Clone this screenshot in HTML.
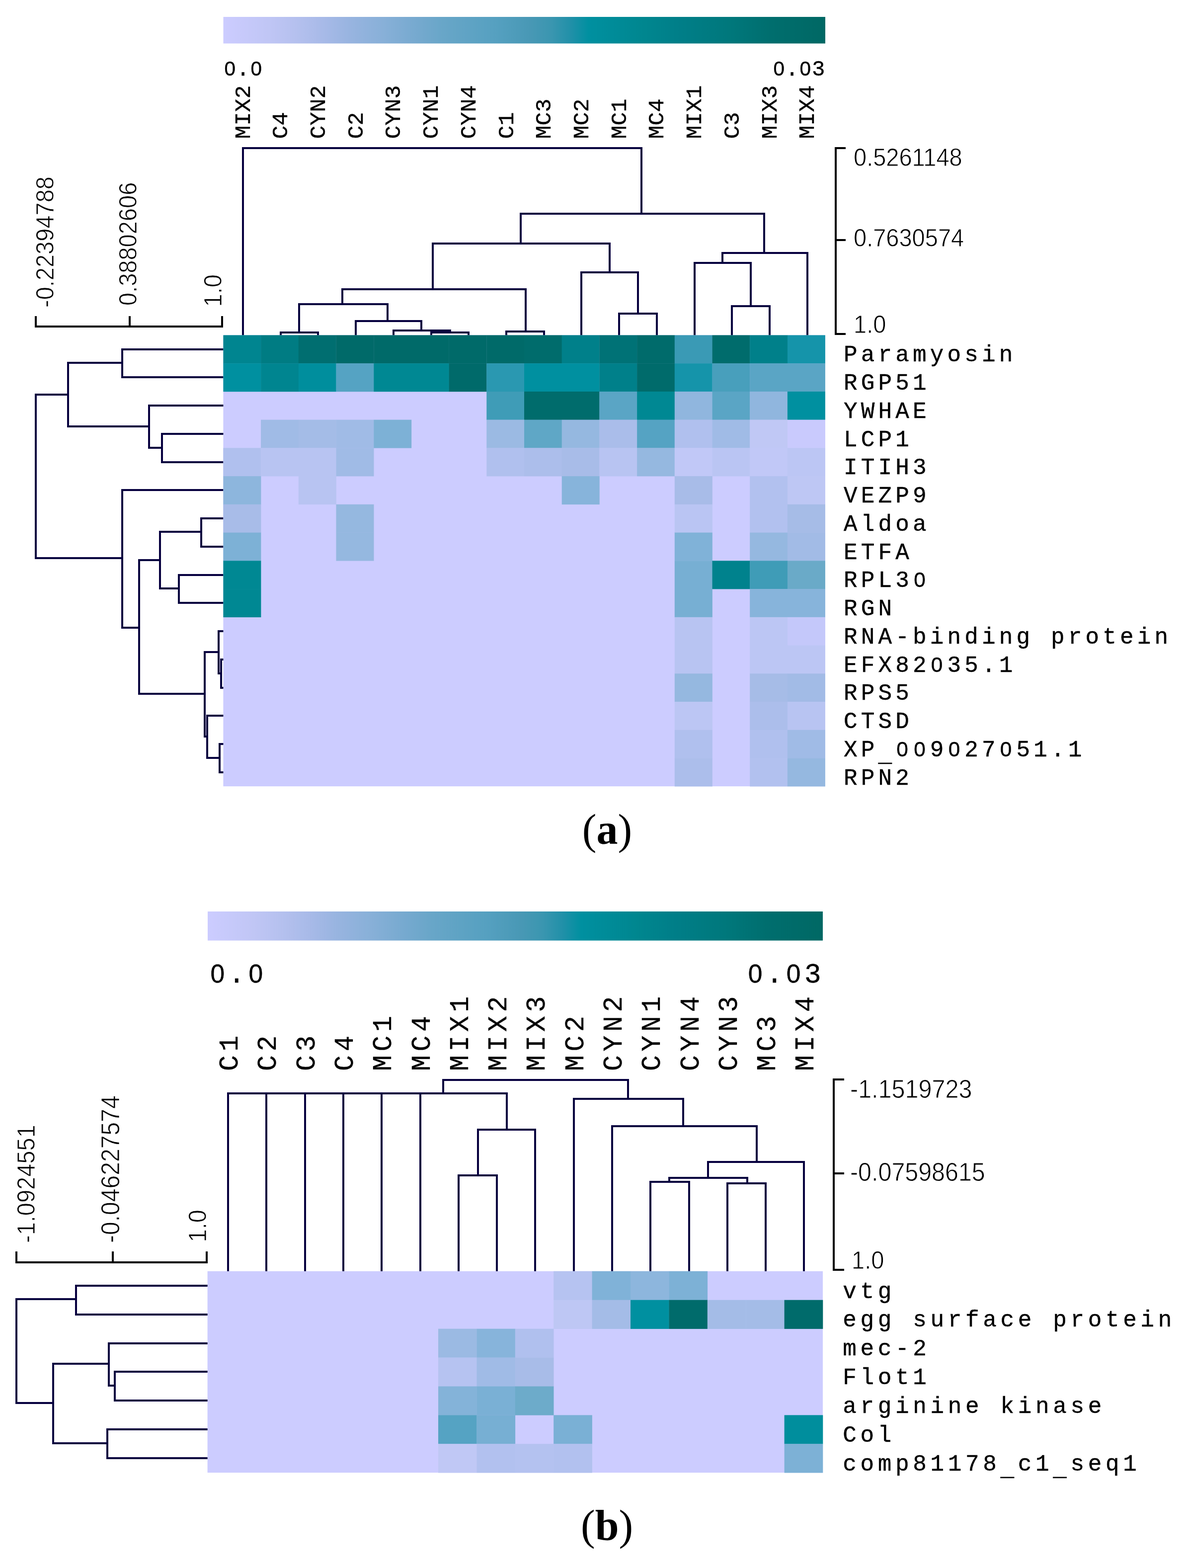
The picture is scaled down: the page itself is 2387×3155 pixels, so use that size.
<!DOCTYPE html>
<html><head><meta charset="utf-8"><title>Heatmap</title>
<style>html,body{margin:0;padding:0;background:#fff;}svg{display:block;}text{fill:#000;}.m{stroke:#000;stroke-width:0.4px;}.s{stroke:#fff;stroke-width:0.8px;}</style>
</head><body>
<svg width="2387" height="3155" viewBox="0 0 2387 3155">
<rect x="0" y="0" width="2387" height="3155" fill="#ffffff"/>
<linearGradient id="ga" x1="0" y1="0" x2="1" y2="0">
<stop offset="0.0" stop-color="#ccccff"/>
<stop offset="0.075" stop-color="#c0c6f5"/>
<stop offset="0.124" stop-color="#b4c0ee"/>
<stop offset="0.165" stop-color="#a8bae8"/>
<stop offset="0.21" stop-color="#98b4e0"/>
<stop offset="0.265" stop-color="#88b0d8"/>
<stop offset="0.315" stop-color="#78aad0"/>
<stop offset="0.365" stop-color="#68a6c8"/>
<stop offset="0.455" stop-color="#55a0c0"/>
<stop offset="0.51" stop-color="#4898b5"/>
<stop offset="0.545" stop-color="#3a96b0"/>
<stop offset="0.578" stop-color="#2090a8"/>
<stop offset="0.607" stop-color="#0090a0"/>
<stop offset="0.7" stop-color="#00868f"/>
<stop offset="0.76" stop-color="#007e88"/>
<stop offset="0.84" stop-color="#00787c"/>
<stop offset="0.91" stop-color="#006e6e"/>
<stop offset="1.0" stop-color="#006864"/>
</linearGradient>
<rect x="449.5" y="34" width="1211.5" height="53.5" fill="url(#ga)"/>
<text class="m" style="font-family:&quot;Liberation Mono&quot;,&quot;DejaVu Sans Mono&quot;,monospace;font-size:44px;" text-anchor="middle"><tspan x="462.8" y="151.7" style="font-family:&quot;Liberation Sans&quot;,Arial,sans-serif;font-size:40.5px">0</tspan><tspan x="489.2" y="151.7">.</tspan><tspan x="515.8" y="151.7" style="font-family:&quot;Liberation Sans&quot;,Arial,sans-serif;font-size:40.5px">0</tspan></text>
<text class="m" style="font-family:&quot;Liberation Mono&quot;,&quot;DejaVu Sans Mono&quot;,monospace;font-size:44px;" text-anchor="middle"><tspan x="1567.8" y="151.7" style="font-family:&quot;Liberation Sans&quot;,Arial,sans-serif;font-size:40.5px">0</tspan><tspan x="1594.2" y="151.7">.</tspan><tspan x="1620.8" y="151.7" style="font-family:&quot;Liberation Sans&quot;,Arial,sans-serif;font-size:40.5px">0</tspan><tspan x="1647.2" y="151.7">3</tspan></text>
<text class="m" x="502.5" y="279.5" style="font-family:&quot;Liberation Mono&quot;,&quot;DejaVu Sans Mono&quot;,monospace;font-size:45px;" text-anchor="start" transform="rotate(-90 502.5 279.5)">MIX2</text>
<text class="m" x="578.2" y="279.5" style="font-family:&quot;Liberation Mono&quot;,&quot;DejaVu Sans Mono&quot;,monospace;font-size:45px;" text-anchor="start" transform="rotate(-90 578.2 279.5)">C4</text>
<text class="m" x="653.9" y="279.5" style="font-family:&quot;Liberation Mono&quot;,&quot;DejaVu Sans Mono&quot;,monospace;font-size:45px;" text-anchor="start" transform="rotate(-90 653.9 279.5)">CYN2</text>
<text class="m" x="729.7" y="279.5" style="font-family:&quot;Liberation Mono&quot;,&quot;DejaVu Sans Mono&quot;,monospace;font-size:45px;" text-anchor="start" transform="rotate(-90 729.7 279.5)">C2</text>
<text class="m" x="805.4" y="279.5" style="font-family:&quot;Liberation Mono&quot;,&quot;DejaVu Sans Mono&quot;,monospace;font-size:45px;" text-anchor="start" transform="rotate(-90 805.4 279.5)">CYN3</text>
<text class="m" x="881.1" y="279.5" style="font-family:&quot;Liberation Mono&quot;,&quot;DejaVu Sans Mono&quot;,monospace;font-size:45px;" text-anchor="start" transform="rotate(-90 881.1 279.5)">CYN1</text>
<text class="m" x="956.8" y="279.5" style="font-family:&quot;Liberation Mono&quot;,&quot;DejaVu Sans Mono&quot;,monospace;font-size:45px;" text-anchor="start" transform="rotate(-90 956.8 279.5)">CYN4</text>
<text class="m" x="1032.5" y="279.5" style="font-family:&quot;Liberation Mono&quot;,&quot;DejaVu Sans Mono&quot;,monospace;font-size:45px;" text-anchor="start" transform="rotate(-90 1032.5 279.5)">C1</text>
<text class="m" x="1108.3" y="279.5" style="font-family:&quot;Liberation Mono&quot;,&quot;DejaVu Sans Mono&quot;,monospace;font-size:45px;" text-anchor="start" transform="rotate(-90 1108.3 279.5)">MC3</text>
<text class="m" x="1184.0" y="279.5" style="font-family:&quot;Liberation Mono&quot;,&quot;DejaVu Sans Mono&quot;,monospace;font-size:45px;" text-anchor="start" transform="rotate(-90 1184.0 279.5)">MC2</text>
<text class="m" x="1259.7" y="279.5" style="font-family:&quot;Liberation Mono&quot;,&quot;DejaVu Sans Mono&quot;,monospace;font-size:45px;" text-anchor="start" transform="rotate(-90 1259.7 279.5)">MC1</text>
<text class="m" x="1335.4" y="279.5" style="font-family:&quot;Liberation Mono&quot;,&quot;DejaVu Sans Mono&quot;,monospace;font-size:45px;" text-anchor="start" transform="rotate(-90 1335.4 279.5)">MC4</text>
<text class="m" x="1411.1" y="279.5" style="font-family:&quot;Liberation Mono&quot;,&quot;DejaVu Sans Mono&quot;,monospace;font-size:45px;" text-anchor="start" transform="rotate(-90 1411.1 279.5)">MIX1</text>
<text class="m" x="1486.9" y="279.5" style="font-family:&quot;Liberation Mono&quot;,&quot;DejaVu Sans Mono&quot;,monospace;font-size:45px;" text-anchor="start" transform="rotate(-90 1486.9 279.5)">C3</text>
<text class="m" x="1562.6" y="279.5" style="font-family:&quot;Liberation Mono&quot;,&quot;DejaVu Sans Mono&quot;,monospace;font-size:45px;" text-anchor="start" transform="rotate(-90 1562.6 279.5)">MIX3</text>
<text class="m" x="1638.3" y="279.5" style="font-family:&quot;Liberation Mono&quot;,&quot;DejaVu Sans Mono&quot;,monospace;font-size:45px;" text-anchor="start" transform="rotate(-90 1638.3 279.5)">MIX4</text>
<line x1="565.0" y1="669.0" x2="640.0" y2="669.0" stroke="#07003f" stroke-width="4" stroke-linecap="square"/>
<line x1="565.0" y1="669.0" x2="565.0" y2="674.0" stroke="#07003f" stroke-width="4" stroke-linecap="square"/>
<line x1="640.0" y1="669.0" x2="640.0" y2="674.0" stroke="#07003f" stroke-width="4" stroke-linecap="square"/>
<line x1="868.0" y1="669.0" x2="943.0" y2="669.0" stroke="#07003f" stroke-width="4" stroke-linecap="square"/>
<line x1="868.0" y1="669.0" x2="868.0" y2="674.0" stroke="#07003f" stroke-width="4" stroke-linecap="square"/>
<line x1="943.0" y1="669.0" x2="943.0" y2="674.0" stroke="#07003f" stroke-width="4" stroke-linecap="square"/>
<line x1="792.0" y1="665.0" x2="906.0" y2="665.0" stroke="#07003f" stroke-width="4" stroke-linecap="square"/>
<line x1="792.0" y1="665.0" x2="792.0" y2="674.0" stroke="#07003f" stroke-width="4" stroke-linecap="square"/>
<line x1="906.0" y1="665.0" x2="906.0" y2="669.0" stroke="#07003f" stroke-width="4" stroke-linecap="square"/>
<line x1="716.0" y1="646.0" x2="848.0" y2="646.0" stroke="#07003f" stroke-width="4" stroke-linecap="square"/>
<line x1="716.0" y1="646.0" x2="716.0" y2="674.0" stroke="#07003f" stroke-width="4" stroke-linecap="square"/>
<line x1="848.0" y1="646.0" x2="848.0" y2="665.0" stroke="#07003f" stroke-width="4" stroke-linecap="square"/>
<line x1="602.0" y1="612.0" x2="780.0" y2="612.0" stroke="#07003f" stroke-width="4" stroke-linecap="square"/>
<line x1="602.0" y1="612.0" x2="602.0" y2="669.0" stroke="#07003f" stroke-width="4" stroke-linecap="square"/>
<line x1="780.0" y1="612.0" x2="780.0" y2="646.0" stroke="#07003f" stroke-width="4" stroke-linecap="square"/>
<line x1="1019.0" y1="667.0" x2="1095.0" y2="667.0" stroke="#07003f" stroke-width="4" stroke-linecap="square"/>
<line x1="1019.0" y1="667.0" x2="1019.0" y2="674.0" stroke="#07003f" stroke-width="4" stroke-linecap="square"/>
<line x1="1095.0" y1="667.0" x2="1095.0" y2="674.0" stroke="#07003f" stroke-width="4" stroke-linecap="square"/>
<line x1="689.0" y1="582.0" x2="1058.0" y2="582.0" stroke="#07003f" stroke-width="4" stroke-linecap="square"/>
<line x1="689.0" y1="582.0" x2="689.0" y2="612.0" stroke="#07003f" stroke-width="4" stroke-linecap="square"/>
<line x1="1058.0" y1="582.0" x2="1058.0" y2="667.0" stroke="#07003f" stroke-width="4" stroke-linecap="square"/>
<line x1="1246.0" y1="631.0" x2="1322.0" y2="631.0" stroke="#07003f" stroke-width="4" stroke-linecap="square"/>
<line x1="1246.0" y1="631.0" x2="1246.0" y2="674.0" stroke="#07003f" stroke-width="4" stroke-linecap="square"/>
<line x1="1322.0" y1="631.0" x2="1322.0" y2="674.0" stroke="#07003f" stroke-width="4" stroke-linecap="square"/>
<line x1="1170.0" y1="548.0" x2="1284.0" y2="548.0" stroke="#07003f" stroke-width="4" stroke-linecap="square"/>
<line x1="1170.0" y1="548.0" x2="1170.0" y2="674.0" stroke="#07003f" stroke-width="4" stroke-linecap="square"/>
<line x1="1284.0" y1="548.0" x2="1284.0" y2="631.0" stroke="#07003f" stroke-width="4" stroke-linecap="square"/>
<line x1="871.0" y1="490.0" x2="1227.0" y2="490.0" stroke="#07003f" stroke-width="4" stroke-linecap="square"/>
<line x1="871.0" y1="490.0" x2="871.0" y2="582.0" stroke="#07003f" stroke-width="4" stroke-linecap="square"/>
<line x1="1227.0" y1="490.0" x2="1227.0" y2="548.0" stroke="#07003f" stroke-width="4" stroke-linecap="square"/>
<line x1="1473.0" y1="616.0" x2="1549.0" y2="616.0" stroke="#07003f" stroke-width="4" stroke-linecap="square"/>
<line x1="1473.0" y1="616.0" x2="1473.0" y2="674.0" stroke="#07003f" stroke-width="4" stroke-linecap="square"/>
<line x1="1549.0" y1="616.0" x2="1549.0" y2="674.0" stroke="#07003f" stroke-width="4" stroke-linecap="square"/>
<line x1="1398.0" y1="529.0" x2="1511.0" y2="529.0" stroke="#07003f" stroke-width="4" stroke-linecap="square"/>
<line x1="1398.0" y1="529.0" x2="1398.0" y2="674.0" stroke="#07003f" stroke-width="4" stroke-linecap="square"/>
<line x1="1511.0" y1="529.0" x2="1511.0" y2="616.0" stroke="#07003f" stroke-width="4" stroke-linecap="square"/>
<line x1="1454.0" y1="509.0" x2="1625.0" y2="509.0" stroke="#07003f" stroke-width="4" stroke-linecap="square"/>
<line x1="1454.0" y1="509.0" x2="1454.0" y2="529.0" stroke="#07003f" stroke-width="4" stroke-linecap="square"/>
<line x1="1625.0" y1="509.0" x2="1625.0" y2="674.0" stroke="#07003f" stroke-width="4" stroke-linecap="square"/>
<line x1="1048.0" y1="430.0" x2="1538.0" y2="430.0" stroke="#07003f" stroke-width="4" stroke-linecap="square"/>
<line x1="1048.0" y1="430.0" x2="1048.0" y2="490.0" stroke="#07003f" stroke-width="4" stroke-linecap="square"/>
<line x1="1538.0" y1="430.0" x2="1538.0" y2="509.0" stroke="#07003f" stroke-width="4" stroke-linecap="square"/>
<line x1="489.0" y1="298.0" x2="1291.0" y2="298.0" stroke="#07003f" stroke-width="4" stroke-linecap="square"/>
<line x1="489.0" y1="298.0" x2="489.0" y2="674.0" stroke="#07003f" stroke-width="4" stroke-linecap="square"/>
<line x1="1291.0" y1="298.0" x2="1291.0" y2="430.0" stroke="#07003f" stroke-width="4" stroke-linecap="square"/>
<line x1="246.0" y1="703.0" x2="246.0" y2="759.0" stroke="#07003f" stroke-width="4" stroke-linecap="square"/>
<line x1="246.0" y1="703.0" x2="449.0" y2="703.0" stroke="#07003f" stroke-width="4" stroke-linecap="square"/>
<line x1="246.0" y1="759.0" x2="449.0" y2="759.0" stroke="#07003f" stroke-width="4" stroke-linecap="square"/>
<line x1="326.0" y1="873.0" x2="326.0" y2="930.0" stroke="#07003f" stroke-width="4" stroke-linecap="square"/>
<line x1="326.0" y1="873.0" x2="449.0" y2="873.0" stroke="#07003f" stroke-width="4" stroke-linecap="square"/>
<line x1="326.0" y1="930.0" x2="449.0" y2="930.0" stroke="#07003f" stroke-width="4" stroke-linecap="square"/>
<line x1="300.0" y1="816.0" x2="300.0" y2="901.0" stroke="#07003f" stroke-width="4" stroke-linecap="square"/>
<line x1="300.0" y1="816.0" x2="449.0" y2="816.0" stroke="#07003f" stroke-width="4" stroke-linecap="square"/>
<line x1="300.0" y1="901.0" x2="326.0" y2="901.0" stroke="#07003f" stroke-width="4" stroke-linecap="square"/>
<line x1="137.0" y1="730.0" x2="137.0" y2="858.0" stroke="#07003f" stroke-width="4" stroke-linecap="square"/>
<line x1="137.0" y1="730.0" x2="246.0" y2="730.0" stroke="#07003f" stroke-width="4" stroke-linecap="square"/>
<line x1="137.0" y1="858.0" x2="300.0" y2="858.0" stroke="#07003f" stroke-width="4" stroke-linecap="square"/>
<line x1="405.0" y1="1043.0" x2="405.0" y2="1100.0" stroke="#07003f" stroke-width="4" stroke-linecap="square"/>
<line x1="405.0" y1="1043.0" x2="449.0" y2="1043.0" stroke="#07003f" stroke-width="4" stroke-linecap="square"/>
<line x1="405.0" y1="1100.0" x2="449.0" y2="1100.0" stroke="#07003f" stroke-width="4" stroke-linecap="square"/>
<line x1="360.0" y1="1157.0" x2="360.0" y2="1213.0" stroke="#07003f" stroke-width="4" stroke-linecap="square"/>
<line x1="360.0" y1="1157.0" x2="449.0" y2="1157.0" stroke="#07003f" stroke-width="4" stroke-linecap="square"/>
<line x1="360.0" y1="1213.0" x2="449.0" y2="1213.0" stroke="#07003f" stroke-width="4" stroke-linecap="square"/>
<line x1="322.0" y1="1070.0" x2="322.0" y2="1184.0" stroke="#07003f" stroke-width="4" stroke-linecap="square"/>
<line x1="322.0" y1="1070.0" x2="405.0" y2="1070.0" stroke="#07003f" stroke-width="4" stroke-linecap="square"/>
<line x1="322.0" y1="1184.0" x2="360.0" y2="1184.0" stroke="#07003f" stroke-width="4" stroke-linecap="square"/>
<line x1="445.0" y1="1327.0" x2="445.0" y2="1384.0" stroke="#07003f" stroke-width="4" stroke-linecap="square"/>
<line x1="445.0" y1="1327.0" x2="449.0" y2="1327.0" stroke="#07003f" stroke-width="4" stroke-linecap="square"/>
<line x1="445.0" y1="1384.0" x2="449.0" y2="1384.0" stroke="#07003f" stroke-width="4" stroke-linecap="square"/>
<line x1="440.0" y1="1270.0" x2="440.0" y2="1355.0" stroke="#07003f" stroke-width="4" stroke-linecap="square"/>
<line x1="440.0" y1="1270.0" x2="449.0" y2="1270.0" stroke="#07003f" stroke-width="4" stroke-linecap="square"/>
<line x1="440.0" y1="1355.0" x2="445.0" y2="1355.0" stroke="#07003f" stroke-width="4" stroke-linecap="square"/>
<line x1="442.0" y1="1497.0" x2="442.0" y2="1554.0" stroke="#07003f" stroke-width="4" stroke-linecap="square"/>
<line x1="442.0" y1="1497.0" x2="449.0" y2="1497.0" stroke="#07003f" stroke-width="4" stroke-linecap="square"/>
<line x1="442.0" y1="1554.0" x2="449.0" y2="1554.0" stroke="#07003f" stroke-width="4" stroke-linecap="square"/>
<line x1="417.0" y1="1440.0" x2="417.0" y2="1525.0" stroke="#07003f" stroke-width="4" stroke-linecap="square"/>
<line x1="417.0" y1="1440.0" x2="449.0" y2="1440.0" stroke="#07003f" stroke-width="4" stroke-linecap="square"/>
<line x1="417.0" y1="1525.0" x2="442.0" y2="1525.0" stroke="#07003f" stroke-width="4" stroke-linecap="square"/>
<line x1="412.0" y1="1312.0" x2="412.0" y2="1482.0" stroke="#07003f" stroke-width="4" stroke-linecap="square"/>
<line x1="412.0" y1="1312.0" x2="440.0" y2="1312.0" stroke="#07003f" stroke-width="4" stroke-linecap="square"/>
<line x1="412.0" y1="1482.0" x2="417.0" y2="1482.0" stroke="#07003f" stroke-width="4" stroke-linecap="square"/>
<line x1="280.0" y1="1127.0" x2="280.0" y2="1396.0" stroke="#07003f" stroke-width="4" stroke-linecap="square"/>
<line x1="280.0" y1="1127.0" x2="322.0" y2="1127.0" stroke="#07003f" stroke-width="4" stroke-linecap="square"/>
<line x1="280.0" y1="1396.0" x2="412.0" y2="1396.0" stroke="#07003f" stroke-width="4" stroke-linecap="square"/>
<line x1="246.0" y1="986.0" x2="246.0" y2="1263.0" stroke="#07003f" stroke-width="4" stroke-linecap="square"/>
<line x1="246.0" y1="986.0" x2="449.0" y2="986.0" stroke="#07003f" stroke-width="4" stroke-linecap="square"/>
<line x1="246.0" y1="1263.0" x2="280.0" y2="1263.0" stroke="#07003f" stroke-width="4" stroke-linecap="square"/>
<line x1="72.0" y1="794.0" x2="72.0" y2="1123.0" stroke="#07003f" stroke-width="4" stroke-linecap="square"/>
<line x1="72.0" y1="794.0" x2="137.0" y2="794.0" stroke="#07003f" stroke-width="4" stroke-linecap="square"/>
<line x1="72.0" y1="1123.0" x2="246.0" y2="1123.0" stroke="#07003f" stroke-width="4" stroke-linecap="square"/>
<line x1="1682.0" y1="298.0" x2="1682.0" y2="672.0" stroke="#000000" stroke-width="4" stroke-linecap="square"/>
<line x1="1682.0" y1="298.0" x2="1700.0" y2="298.0" stroke="#000000" stroke-width="4" stroke-linecap="square"/>
<line x1="1682.0" y1="483.0" x2="1700.0" y2="483.0" stroke="#000000" stroke-width="4" stroke-linecap="square"/>
<line x1="1682.0" y1="672.0" x2="1700.0" y2="672.0" stroke="#000000" stroke-width="4" stroke-linecap="square"/>
<text class="s" x="0" y="0" style="font-family:&quot;Liberation Sans&quot;,Arial,sans-serif;font-size:47px;" text-anchor="start" transform="translate(1718.0 334.0) scale(1 1.065)">0.5261148</text>
<text class="s" x="0" y="0" style="font-family:&quot;Liberation Sans&quot;,Arial,sans-serif;font-size:47px;" text-anchor="start" transform="translate(1718.0 495.8) scale(1 1.065)">0.7630574</text>
<text class="s" x="0" y="0" style="font-family:&quot;Liberation Sans&quot;,Arial,sans-serif;font-size:47px;" text-anchor="start" transform="translate(1718.0 670.2) scale(1 1.065)">1.0</text>
<line x1="72.0" y1="657.0" x2="447.0" y2="657.0" stroke="#000000" stroke-width="4" stroke-linecap="square"/>
<line x1="72.0" y1="638.0" x2="72.0" y2="657.0" stroke="#000000" stroke-width="4" stroke-linecap="square"/>
<line x1="261.0" y1="638.0" x2="261.0" y2="657.0" stroke="#000000" stroke-width="4" stroke-linecap="square"/>
<line x1="447.0" y1="638.0" x2="447.0" y2="657.0" stroke="#000000" stroke-width="4" stroke-linecap="square"/>
<text class="s" x="0" y="0" style="font-family:&quot;Liberation Sans&quot;,Arial,sans-serif;font-size:47px;" text-anchor="start" transform="translate(108.3 619.0) rotate(-90) scale(1 1.065)">-0.22394788</text>
<text class="s" x="0" y="0" style="font-family:&quot;Liberation Sans&quot;,Arial,sans-serif;font-size:47px;" text-anchor="start" transform="translate(274.7 615.0) rotate(-90) scale(1 1.065)">0.38802606</text>
<text class="s" x="0" y="0" style="font-family:&quot;Liberation Sans&quot;,Arial,sans-serif;font-size:47px;" text-anchor="start" transform="translate(445.6 617.5) rotate(-90) scale(1 1.065)">1.0</text>
<text class="m" style="font-family:&quot;Liberation Mono&quot;,&quot;DejaVu Sans Mono&quot;,monospace;font-size:46px;" text-anchor="middle"><tspan x="1711.9" y="727.2">P</tspan><tspan x="1746.6" y="727.2">a</tspan><tspan x="1781.4" y="727.2">r</tspan><tspan x="1816.1" y="727.2">a</tspan><tspan x="1850.9" y="727.2">m</tspan><tspan x="1885.6" y="727.2">y</tspan><tspan x="1920.4" y="727.2">o</tspan><tspan x="1955.1" y="727.2">s</tspan><tspan x="1989.9" y="727.2">i</tspan><tspan x="2024.6" y="727.2">n</tspan></text>
<text class="m" style="font-family:&quot;Liberation Mono&quot;,&quot;DejaVu Sans Mono&quot;,monospace;font-size:46px;" text-anchor="middle"><tspan x="1711.9" y="784.0">R</tspan><tspan x="1746.6" y="784.0">G</tspan><tspan x="1781.4" y="784.0">P</tspan><tspan x="1816.1" y="784.0">5</tspan><tspan x="1850.9" y="784.0">1</tspan></text>
<text class="m" style="font-family:&quot;Liberation Mono&quot;,&quot;DejaVu Sans Mono&quot;,monospace;font-size:46px;" text-anchor="middle"><tspan x="1711.9" y="840.7">Y</tspan><tspan x="1746.6" y="840.7">W</tspan><tspan x="1781.4" y="840.7">H</tspan><tspan x="1816.1" y="840.7">A</tspan><tspan x="1850.9" y="840.7">E</tspan></text>
<text class="m" style="font-family:&quot;Liberation Mono&quot;,&quot;DejaVu Sans Mono&quot;,monospace;font-size:46px;" text-anchor="middle"><tspan x="1711.9" y="897.5">L</tspan><tspan x="1746.6" y="897.5">C</tspan><tspan x="1781.4" y="897.5">P</tspan><tspan x="1816.1" y="897.5">1</tspan></text>
<text class="m" style="font-family:&quot;Liberation Mono&quot;,&quot;DejaVu Sans Mono&quot;,monospace;font-size:46px;" text-anchor="middle"><tspan x="1711.9" y="954.2">I</tspan><tspan x="1746.6" y="954.2">T</tspan><tspan x="1781.4" y="954.2">I</tspan><tspan x="1816.1" y="954.2">H</tspan><tspan x="1850.9" y="954.2">3</tspan></text>
<text class="m" style="font-family:&quot;Liberation Mono&quot;,&quot;DejaVu Sans Mono&quot;,monospace;font-size:46px;" text-anchor="middle"><tspan x="1711.9" y="1011.0">V</tspan><tspan x="1746.6" y="1011.0">E</tspan><tspan x="1781.4" y="1011.0">Z</tspan><tspan x="1816.1" y="1011.0">P</tspan><tspan x="1850.9" y="1011.0">9</tspan></text>
<text class="m" style="font-family:&quot;Liberation Mono&quot;,&quot;DejaVu Sans Mono&quot;,monospace;font-size:46px;" text-anchor="middle"><tspan x="1711.9" y="1067.8">A</tspan><tspan x="1746.6" y="1067.8">l</tspan><tspan x="1781.4" y="1067.8">d</tspan><tspan x="1816.1" y="1067.8">o</tspan><tspan x="1850.9" y="1067.8">a</tspan></text>
<text class="m" style="font-family:&quot;Liberation Mono&quot;,&quot;DejaVu Sans Mono&quot;,monospace;font-size:46px;" text-anchor="middle"><tspan x="1711.9" y="1124.5">E</tspan><tspan x="1746.6" y="1124.5">T</tspan><tspan x="1781.4" y="1124.5">F</tspan><tspan x="1816.1" y="1124.5">A</tspan></text>
<text class="m" style="font-family:&quot;Liberation Mono&quot;,&quot;DejaVu Sans Mono&quot;,monospace;font-size:46px;" text-anchor="middle"><tspan x="1711.9" y="1181.3">R</tspan><tspan x="1746.6" y="1181.3">P</tspan><tspan x="1781.4" y="1181.3">L</tspan><tspan x="1816.1" y="1181.3">3</tspan><tspan x="1850.9" y="1181.3" style="font-family:&quot;Liberation Sans&quot;,Arial,sans-serif;font-size:42.3px">0</tspan></text>
<text class="m" style="font-family:&quot;Liberation Mono&quot;,&quot;DejaVu Sans Mono&quot;,monospace;font-size:46px;" text-anchor="middle"><tspan x="1711.9" y="1238.0">R</tspan><tspan x="1746.6" y="1238.0">G</tspan><tspan x="1781.4" y="1238.0">N</tspan></text>
<text class="m" style="font-family:&quot;Liberation Mono&quot;,&quot;DejaVu Sans Mono&quot;,monospace;font-size:46px;" text-anchor="middle"><tspan x="1711.9" y="1294.8">R</tspan><tspan x="1746.6" y="1294.8">N</tspan><tspan x="1781.4" y="1294.8">A</tspan><tspan x="1816.1" y="1294.8">-</tspan><tspan x="1850.9" y="1294.8">b</tspan><tspan x="1885.6" y="1294.8">i</tspan><tspan x="1920.4" y="1294.8">n</tspan><tspan x="1955.1" y="1294.8">d</tspan><tspan x="1989.9" y="1294.8">i</tspan><tspan x="2024.6" y="1294.8">n</tspan><tspan x="2059.4" y="1294.8">g</tspan><tspan x="2128.9" y="1294.8">p</tspan><tspan x="2163.6" y="1294.8">r</tspan><tspan x="2198.4" y="1294.8">o</tspan><tspan x="2233.1" y="1294.8">t</tspan><tspan x="2267.9" y="1294.8">e</tspan><tspan x="2302.6" y="1294.8">i</tspan><tspan x="2337.4" y="1294.8">n</tspan></text>
<text class="m" style="font-family:&quot;Liberation Mono&quot;,&quot;DejaVu Sans Mono&quot;,monospace;font-size:46px;" text-anchor="middle"><tspan x="1711.9" y="1351.6">E</tspan><tspan x="1746.6" y="1351.6">F</tspan><tspan x="1781.4" y="1351.6">X</tspan><tspan x="1816.1" y="1351.6">8</tspan><tspan x="1850.9" y="1351.6">2</tspan><tspan x="1885.6" y="1351.6" style="font-family:&quot;Liberation Sans&quot;,Arial,sans-serif;font-size:42.3px">0</tspan><tspan x="1920.4" y="1351.6">3</tspan><tspan x="1955.1" y="1351.6">5</tspan><tspan x="1989.9" y="1351.6">.</tspan><tspan x="2024.6" y="1351.6">1</tspan></text>
<text class="m" style="font-family:&quot;Liberation Mono&quot;,&quot;DejaVu Sans Mono&quot;,monospace;font-size:46px;" text-anchor="middle"><tspan x="1711.9" y="1408.3">R</tspan><tspan x="1746.6" y="1408.3">P</tspan><tspan x="1781.4" y="1408.3">S</tspan><tspan x="1816.1" y="1408.3">5</tspan></text>
<text class="m" style="font-family:&quot;Liberation Mono&quot;,&quot;DejaVu Sans Mono&quot;,monospace;font-size:46px;" text-anchor="middle"><tspan x="1711.9" y="1465.1">C</tspan><tspan x="1746.6" y="1465.1">T</tspan><tspan x="1781.4" y="1465.1">S</tspan><tspan x="1816.1" y="1465.1">D</tspan></text>
<text class="m" style="font-family:&quot;Liberation Mono&quot;,&quot;DejaVu Sans Mono&quot;,monospace;font-size:46px;" text-anchor="middle"><tspan x="1711.9" y="1521.8">X</tspan><tspan x="1746.6" y="1521.8">P</tspan><tspan x="1781.4" y="1531.8">_</tspan><tspan x="1816.1" y="1521.8" style="font-family:&quot;Liberation Sans&quot;,Arial,sans-serif;font-size:42.3px">0</tspan><tspan x="1850.9" y="1521.8" style="font-family:&quot;Liberation Sans&quot;,Arial,sans-serif;font-size:42.3px">0</tspan><tspan x="1885.6" y="1521.8">9</tspan><tspan x="1920.4" y="1521.8" style="font-family:&quot;Liberation Sans&quot;,Arial,sans-serif;font-size:42.3px">0</tspan><tspan x="1955.1" y="1521.8">2</tspan><tspan x="1989.9" y="1521.8">7</tspan><tspan x="2024.6" y="1521.8" style="font-family:&quot;Liberation Sans&quot;,Arial,sans-serif;font-size:42.3px">0</tspan><tspan x="2059.4" y="1521.8">5</tspan><tspan x="2094.1" y="1521.8">1</tspan><tspan x="2128.9" y="1521.8">.</tspan><tspan x="2163.6" y="1521.8">1</tspan></text>
<text class="m" style="font-family:&quot;Liberation Mono&quot;,&quot;DejaVu Sans Mono&quot;,monospace;font-size:46px;" text-anchor="middle"><tspan x="1711.9" y="1578.6">R</tspan><tspan x="1746.6" y="1578.6">P</tspan><tspan x="1781.4" y="1578.6">N</tspan><tspan x="1816.1" y="1578.6">2</tspan></text>
<text x="1222" y="1698" style="font-family:&quot;Liberation Serif&quot;,&quot;Times New Roman&quot;,serif;font-size:86px;" text-anchor="middle">(<tspan style="font-weight:bold">a</tspan>)</text>
<linearGradient id="gb" x1="0" y1="0" x2="1" y2="0">
<stop offset="0.0" stop-color="#ccccff"/>
<stop offset="0.075" stop-color="#c0c6f5"/>
<stop offset="0.124" stop-color="#b4c0ee"/>
<stop offset="0.165" stop-color="#a8bae8"/>
<stop offset="0.21" stop-color="#98b4e0"/>
<stop offset="0.265" stop-color="#88b0d8"/>
<stop offset="0.315" stop-color="#78aad0"/>
<stop offset="0.365" stop-color="#68a6c8"/>
<stop offset="0.455" stop-color="#55a0c0"/>
<stop offset="0.51" stop-color="#4898b5"/>
<stop offset="0.545" stop-color="#3a96b0"/>
<stop offset="0.578" stop-color="#2090a8"/>
<stop offset="0.607" stop-color="#0090a0"/>
<stop offset="0.7" stop-color="#00868f"/>
<stop offset="0.76" stop-color="#007e88"/>
<stop offset="0.84" stop-color="#00787c"/>
<stop offset="0.91" stop-color="#006e6e"/>
<stop offset="1.0" stop-color="#006864"/>
</linearGradient>
<rect x="418" y="1834" width="1238" height="58.5" fill="url(#gb)"/>
<text class="m" style="font-family:&quot;Liberation Mono&quot;,&quot;DejaVu Sans Mono&quot;,monospace;font-size:56px;" text-anchor="middle"><tspan x="437.8" y="1977.0" style="font-family:&quot;Liberation Sans&quot;,Arial,sans-serif;font-size:51.5px">0</tspan><tspan x="476.2" y="1977.0">.</tspan><tspan x="514.8" y="1977.0" style="font-family:&quot;Liberation Sans&quot;,Arial,sans-serif;font-size:51.5px">0</tspan></text>
<text class="m" style="font-family:&quot;Liberation Mono&quot;,&quot;DejaVu Sans Mono&quot;,monospace;font-size:56px;" text-anchor="middle"><tspan x="1520.2" y="1977.0" style="font-family:&quot;Liberation Sans&quot;,Arial,sans-serif;font-size:51.5px">0</tspan><tspan x="1558.8" y="1977.0">.</tspan><tspan x="1597.2" y="1977.0" style="font-family:&quot;Liberation Sans&quot;,Arial,sans-serif;font-size:51.5px">0</tspan><tspan x="1635.8" y="1977.0">3</tspan></text>
<text class="m" x="478.0" y="2155.0" style="font-family:&quot;Liberation Mono&quot;,&quot;DejaVu Sans Mono&quot;,monospace;font-size:53px;letter-spacing:7.7px;" text-anchor="start" transform="rotate(-90 478.0 2155.0)">C1</text>
<text class="m" x="555.3" y="2155.0" style="font-family:&quot;Liberation Mono&quot;,&quot;DejaVu Sans Mono&quot;,monospace;font-size:53px;letter-spacing:7.7px;" text-anchor="start" transform="rotate(-90 555.3 2155.0)">C2</text>
<text class="m" x="632.6" y="2155.0" style="font-family:&quot;Liberation Mono&quot;,&quot;DejaVu Sans Mono&quot;,monospace;font-size:53px;letter-spacing:7.7px;" text-anchor="start" transform="rotate(-90 632.6 2155.0)">C3</text>
<text class="m" x="709.9" y="2155.0" style="font-family:&quot;Liberation Mono&quot;,&quot;DejaVu Sans Mono&quot;,monospace;font-size:53px;letter-spacing:7.7px;" text-anchor="start" transform="rotate(-90 709.9 2155.0)">C4</text>
<text class="m" x="787.2" y="2155.0" style="font-family:&quot;Liberation Mono&quot;,&quot;DejaVu Sans Mono&quot;,monospace;font-size:53px;letter-spacing:7.7px;" text-anchor="start" transform="rotate(-90 787.2 2155.0)">MC1</text>
<text class="m" x="864.5" y="2155.0" style="font-family:&quot;Liberation Mono&quot;,&quot;DejaVu Sans Mono&quot;,monospace;font-size:53px;letter-spacing:7.7px;" text-anchor="start" transform="rotate(-90 864.5 2155.0)">MC4</text>
<text class="m" x="941.7" y="2155.0" style="font-family:&quot;Liberation Mono&quot;,&quot;DejaVu Sans Mono&quot;,monospace;font-size:53px;letter-spacing:7.7px;" text-anchor="start" transform="rotate(-90 941.7 2155.0)">MIX1</text>
<text class="m" x="1019.0" y="2155.0" style="font-family:&quot;Liberation Mono&quot;,&quot;DejaVu Sans Mono&quot;,monospace;font-size:53px;letter-spacing:7.7px;" text-anchor="start" transform="rotate(-90 1019.0 2155.0)">MIX2</text>
<text class="m" x="1096.3" y="2155.0" style="font-family:&quot;Liberation Mono&quot;,&quot;DejaVu Sans Mono&quot;,monospace;font-size:53px;letter-spacing:7.7px;" text-anchor="start" transform="rotate(-90 1096.3 2155.0)">MIX3</text>
<text class="m" x="1173.6" y="2155.0" style="font-family:&quot;Liberation Mono&quot;,&quot;DejaVu Sans Mono&quot;,monospace;font-size:53px;letter-spacing:7.7px;" text-anchor="start" transform="rotate(-90 1173.6 2155.0)">MC2</text>
<text class="m" x="1250.9" y="2155.0" style="font-family:&quot;Liberation Mono&quot;,&quot;DejaVu Sans Mono&quot;,monospace;font-size:53px;letter-spacing:7.7px;" text-anchor="start" transform="rotate(-90 1250.9 2155.0)">CYN2</text>
<text class="m" x="1328.2" y="2155.0" style="font-family:&quot;Liberation Mono&quot;,&quot;DejaVu Sans Mono&quot;,monospace;font-size:53px;letter-spacing:7.7px;" text-anchor="start" transform="rotate(-90 1328.2 2155.0)">CYN1</text>
<text class="m" x="1405.5" y="2155.0" style="font-family:&quot;Liberation Mono&quot;,&quot;DejaVu Sans Mono&quot;,monospace;font-size:53px;letter-spacing:7.7px;" text-anchor="start" transform="rotate(-90 1405.5 2155.0)">CYN4</text>
<text class="m" x="1482.8" y="2155.0" style="font-family:&quot;Liberation Mono&quot;,&quot;DejaVu Sans Mono&quot;,monospace;font-size:53px;letter-spacing:7.7px;" text-anchor="start" transform="rotate(-90 1482.8 2155.0)">CYN3</text>
<text class="m" x="1560.1" y="2155.0" style="font-family:&quot;Liberation Mono&quot;,&quot;DejaVu Sans Mono&quot;,monospace;font-size:53px;letter-spacing:7.7px;" text-anchor="start" transform="rotate(-90 1560.1 2155.0)">MC3</text>
<text class="m" x="1637.4" y="2155.0" style="font-family:&quot;Liberation Mono&quot;,&quot;DejaVu Sans Mono&quot;,monospace;font-size:53px;letter-spacing:7.7px;" text-anchor="start" transform="rotate(-90 1637.4 2155.0)">MIX4</text>
<line x1="923.0" y1="2365.0" x2="1000.0" y2="2365.0" stroke="#07003f" stroke-width="4" stroke-linecap="square"/>
<line x1="923.0" y1="2365.0" x2="923.0" y2="2558.0" stroke="#07003f" stroke-width="4" stroke-linecap="square"/>
<line x1="1000.0" y1="2365.0" x2="1000.0" y2="2558.0" stroke="#07003f" stroke-width="4" stroke-linecap="square"/>
<line x1="962.0" y1="2273.0" x2="1077.0" y2="2273.0" stroke="#07003f" stroke-width="4" stroke-linecap="square"/>
<line x1="962.0" y1="2273.0" x2="962.0" y2="2365.0" stroke="#07003f" stroke-width="4" stroke-linecap="square"/>
<line x1="1077.0" y1="2273.0" x2="1077.0" y2="2558.0" stroke="#07003f" stroke-width="4" stroke-linecap="square"/>
<line x1="459.0" y1="2200.0" x2="1020.0" y2="2200.0" stroke="#07003f" stroke-width="4" stroke-linecap="square"/>
<line x1="459.0" y1="2200.0" x2="459.0" y2="2558.0" stroke="#07003f" stroke-width="4" stroke-linecap="square"/>
<line x1="536.0" y1="2200.0" x2="536.0" y2="2558.0" stroke="#07003f" stroke-width="4" stroke-linecap="square"/>
<line x1="614.0" y1="2200.0" x2="614.0" y2="2558.0" stroke="#07003f" stroke-width="4" stroke-linecap="square"/>
<line x1="691.0" y1="2200.0" x2="691.0" y2="2558.0" stroke="#07003f" stroke-width="4" stroke-linecap="square"/>
<line x1="768.0" y1="2200.0" x2="768.0" y2="2558.0" stroke="#07003f" stroke-width="4" stroke-linecap="square"/>
<line x1="846.0" y1="2200.0" x2="846.0" y2="2558.0" stroke="#07003f" stroke-width="4" stroke-linecap="square"/>
<line x1="1020.0" y1="2200.0" x2="1020.0" y2="2273.0" stroke="#07003f" stroke-width="4" stroke-linecap="square"/>
<line x1="1309.0" y1="2378.0" x2="1387.0" y2="2378.0" stroke="#07003f" stroke-width="4" stroke-linecap="square"/>
<line x1="1309.0" y1="2378.0" x2="1309.0" y2="2558.0" stroke="#07003f" stroke-width="4" stroke-linecap="square"/>
<line x1="1387.0" y1="2378.0" x2="1387.0" y2="2558.0" stroke="#07003f" stroke-width="4" stroke-linecap="square"/>
<line x1="1464.0" y1="2381.0" x2="1541.0" y2="2381.0" stroke="#07003f" stroke-width="4" stroke-linecap="square"/>
<line x1="1464.0" y1="2381.0" x2="1464.0" y2="2558.0" stroke="#07003f" stroke-width="4" stroke-linecap="square"/>
<line x1="1541.0" y1="2381.0" x2="1541.0" y2="2558.0" stroke="#07003f" stroke-width="4" stroke-linecap="square"/>
<line x1="1347.0" y1="2370.0" x2="1504.0" y2="2370.0" stroke="#07003f" stroke-width="4" stroke-linecap="square"/>
<line x1="1347.0" y1="2370.0" x2="1347.0" y2="2378.0" stroke="#07003f" stroke-width="4" stroke-linecap="square"/>
<line x1="1504.0" y1="2370.0" x2="1504.0" y2="2381.0" stroke="#07003f" stroke-width="4" stroke-linecap="square"/>
<line x1="1425.0" y1="2338.0" x2="1618.0" y2="2338.0" stroke="#07003f" stroke-width="4" stroke-linecap="square"/>
<line x1="1425.0" y1="2338.0" x2="1425.0" y2="2370.0" stroke="#07003f" stroke-width="4" stroke-linecap="square"/>
<line x1="1618.0" y1="2338.0" x2="1618.0" y2="2558.0" stroke="#07003f" stroke-width="4" stroke-linecap="square"/>
<line x1="1232.0" y1="2266.0" x2="1523.0" y2="2266.0" stroke="#07003f" stroke-width="4" stroke-linecap="square"/>
<line x1="1232.0" y1="2266.0" x2="1232.0" y2="2558.0" stroke="#07003f" stroke-width="4" stroke-linecap="square"/>
<line x1="1523.0" y1="2266.0" x2="1523.0" y2="2338.0" stroke="#07003f" stroke-width="4" stroke-linecap="square"/>
<line x1="1155.0" y1="2211.0" x2="1375.0" y2="2211.0" stroke="#07003f" stroke-width="4" stroke-linecap="square"/>
<line x1="1155.0" y1="2211.0" x2="1155.0" y2="2558.0" stroke="#07003f" stroke-width="4" stroke-linecap="square"/>
<line x1="1375.0" y1="2211.0" x2="1375.0" y2="2266.0" stroke="#07003f" stroke-width="4" stroke-linecap="square"/>
<line x1="892.0" y1="2173.0" x2="1264.0" y2="2173.0" stroke="#07003f" stroke-width="4" stroke-linecap="square"/>
<line x1="892.0" y1="2173.0" x2="892.0" y2="2200.0" stroke="#07003f" stroke-width="4" stroke-linecap="square"/>
<line x1="1264.0" y1="2173.0" x2="1264.0" y2="2211.0" stroke="#07003f" stroke-width="4" stroke-linecap="square"/>
<line x1="153.0" y1="2587.0" x2="153.0" y2="2645.0" stroke="#07003f" stroke-width="4" stroke-linecap="square"/>
<line x1="153.0" y1="2587.0" x2="418.0" y2="2587.0" stroke="#07003f" stroke-width="4" stroke-linecap="square"/>
<line x1="153.0" y1="2645.0" x2="418.0" y2="2645.0" stroke="#07003f" stroke-width="4" stroke-linecap="square"/>
<line x1="231.0" y1="2760.0" x2="231.0" y2="2818.0" stroke="#07003f" stroke-width="4" stroke-linecap="square"/>
<line x1="231.0" y1="2760.0" x2="418.0" y2="2760.0" stroke="#07003f" stroke-width="4" stroke-linecap="square"/>
<line x1="231.0" y1="2818.0" x2="418.0" y2="2818.0" stroke="#07003f" stroke-width="4" stroke-linecap="square"/>
<line x1="219.0" y1="2703.0" x2="219.0" y2="2788.0" stroke="#07003f" stroke-width="4" stroke-linecap="square"/>
<line x1="219.0" y1="2703.0" x2="418.0" y2="2703.0" stroke="#07003f" stroke-width="4" stroke-linecap="square"/>
<line x1="219.0" y1="2788.0" x2="231.0" y2="2788.0" stroke="#07003f" stroke-width="4" stroke-linecap="square"/>
<line x1="216.0" y1="2876.0" x2="216.0" y2="2934.0" stroke="#07003f" stroke-width="4" stroke-linecap="square"/>
<line x1="216.0" y1="2876.0" x2="418.0" y2="2876.0" stroke="#07003f" stroke-width="4" stroke-linecap="square"/>
<line x1="216.0" y1="2934.0" x2="418.0" y2="2934.0" stroke="#07003f" stroke-width="4" stroke-linecap="square"/>
<line x1="107.0" y1="2744.0" x2="107.0" y2="2904.0" stroke="#07003f" stroke-width="4" stroke-linecap="square"/>
<line x1="107.0" y1="2744.0" x2="219.0" y2="2744.0" stroke="#07003f" stroke-width="4" stroke-linecap="square"/>
<line x1="107.0" y1="2904.0" x2="216.0" y2="2904.0" stroke="#07003f" stroke-width="4" stroke-linecap="square"/>
<line x1="33.0" y1="2614.0" x2="33.0" y2="2823.0" stroke="#07003f" stroke-width="4" stroke-linecap="square"/>
<line x1="33.0" y1="2614.0" x2="153.0" y2="2614.0" stroke="#07003f" stroke-width="4" stroke-linecap="square"/>
<line x1="33.0" y1="2823.0" x2="107.0" y2="2823.0" stroke="#07003f" stroke-width="4" stroke-linecap="square"/>
<line x1="1678.0" y1="2172.0" x2="1678.0" y2="2555.0" stroke="#000000" stroke-width="4" stroke-linecap="square"/>
<line x1="1678.0" y1="2172.0" x2="1697.0" y2="2172.0" stroke="#000000" stroke-width="4" stroke-linecap="square"/>
<line x1="1678.0" y1="2361.0" x2="1697.0" y2="2361.0" stroke="#000000" stroke-width="4" stroke-linecap="square"/>
<line x1="1678.0" y1="2555.0" x2="1697.0" y2="2555.0" stroke="#000000" stroke-width="4" stroke-linecap="square"/>
<text class="s" x="0" y="0" style="font-family:&quot;Liberation Sans&quot;,Arial,sans-serif;font-size:48.5px;" text-anchor="start" transform="translate(1711.0 2209.0) scale(1 1.065)">-1.1519723</text>
<text class="s" x="0" y="0" style="font-family:&quot;Liberation Sans&quot;,Arial,sans-serif;font-size:48.4px;" text-anchor="start" transform="translate(1711.0 2376.0) scale(1 1.065)">-0.07598615</text>
<text class="s" x="0" y="0" style="font-family:&quot;Liberation Sans&quot;,Arial,sans-serif;font-size:47px;" text-anchor="start" transform="translate(1714.0 2553.4) scale(1 1.065)">1.0</text>
<line x1="33.0" y1="2540.0" x2="416.0" y2="2540.0" stroke="#000000" stroke-width="4" stroke-linecap="square"/>
<line x1="33.0" y1="2520.0" x2="33.0" y2="2540.0" stroke="#000000" stroke-width="4" stroke-linecap="square"/>
<line x1="227.0" y1="2520.0" x2="227.0" y2="2540.0" stroke="#000000" stroke-width="4" stroke-linecap="square"/>
<line x1="416.0" y1="2520.0" x2="416.0" y2="2540.0" stroke="#000000" stroke-width="4" stroke-linecap="square"/>
<text class="s" x="0" y="0" style="font-family:&quot;Liberation Sans&quot;,Arial,sans-serif;font-size:47px;" text-anchor="start" transform="translate(69.9 2501.0) rotate(-90) scale(1 1.065)">-1.0924551</text>
<text class="s" x="0" y="0" style="font-family:&quot;Liberation Sans&quot;,Arial,sans-serif;font-size:48.1px;" text-anchor="start" transform="translate(240.1 2501.0) rotate(-90) scale(1 1.065)">-0.046227574</text>
<text class="s" x="0" y="0" style="font-family:&quot;Liberation Sans&quot;,Arial,sans-serif;font-size:47px;" text-anchor="start" transform="translate(415.0 2499.5) rotate(-90) scale(1 1.065)">1.0</text>
<text class="m" style="font-family:&quot;Liberation Mono&quot;,&quot;DejaVu Sans Mono&quot;,monospace;font-size:46px;" text-anchor="middle"><tspan x="1710.1" y="2611.5">v</tspan><tspan x="1745.4" y="2611.5">t</tspan><tspan x="1780.6" y="2611.5">g</tspan></text>
<text class="m" style="font-family:&quot;Liberation Mono&quot;,&quot;DejaVu Sans Mono&quot;,monospace;font-size:46px;" text-anchor="middle"><tspan x="1710.1" y="2669.4">e</tspan><tspan x="1745.4" y="2669.4">g</tspan><tspan x="1780.6" y="2669.4">g</tspan><tspan x="1851.1" y="2669.4">s</tspan><tspan x="1886.4" y="2669.4">u</tspan><tspan x="1921.6" y="2669.4">r</tspan><tspan x="1956.9" y="2669.4">f</tspan><tspan x="1992.1" y="2669.4">a</tspan><tspan x="2027.4" y="2669.4">c</tspan><tspan x="2062.6" y="2669.4">e</tspan><tspan x="2133.1" y="2669.4">p</tspan><tspan x="2168.4" y="2669.4">r</tspan><tspan x="2203.6" y="2669.4">o</tspan><tspan x="2238.9" y="2669.4">t</tspan><tspan x="2274.1" y="2669.4">e</tspan><tspan x="2309.4" y="2669.4">i</tspan><tspan x="2344.6" y="2669.4">n</tspan></text>
<text class="m" style="font-family:&quot;Liberation Mono&quot;,&quot;DejaVu Sans Mono&quot;,monospace;font-size:46px;" text-anchor="middle"><tspan x="1710.1" y="2727.3">m</tspan><tspan x="1745.4" y="2727.3">e</tspan><tspan x="1780.6" y="2727.3">c</tspan><tspan x="1815.9" y="2727.3">-</tspan><tspan x="1851.1" y="2727.3">2</tspan></text>
<text class="m" style="font-family:&quot;Liberation Mono&quot;,&quot;DejaVu Sans Mono&quot;,monospace;font-size:46px;" text-anchor="middle"><tspan x="1710.1" y="2785.2">F</tspan><tspan x="1745.4" y="2785.2">l</tspan><tspan x="1780.6" y="2785.2">o</tspan><tspan x="1815.9" y="2785.2">t</tspan><tspan x="1851.1" y="2785.2">1</tspan></text>
<text class="m" style="font-family:&quot;Liberation Mono&quot;,&quot;DejaVu Sans Mono&quot;,monospace;font-size:46px;" text-anchor="middle"><tspan x="1710.1" y="2843.1">a</tspan><tspan x="1745.4" y="2843.1">r</tspan><tspan x="1780.6" y="2843.1">g</tspan><tspan x="1815.9" y="2843.1">i</tspan><tspan x="1851.1" y="2843.1">n</tspan><tspan x="1886.4" y="2843.1">i</tspan><tspan x="1921.6" y="2843.1">n</tspan><tspan x="1956.9" y="2843.1">e</tspan><tspan x="2027.4" y="2843.1">k</tspan><tspan x="2062.6" y="2843.1">i</tspan><tspan x="2097.9" y="2843.1">n</tspan><tspan x="2133.1" y="2843.1">a</tspan><tspan x="2168.4" y="2843.1">s</tspan><tspan x="2203.6" y="2843.1">e</tspan></text>
<text class="m" style="font-family:&quot;Liberation Mono&quot;,&quot;DejaVu Sans Mono&quot;,monospace;font-size:46px;" text-anchor="middle"><tspan x="1710.1" y="2901.0">C</tspan><tspan x="1745.4" y="2901.0">o</tspan><tspan x="1780.6" y="2901.0">l</tspan></text>
<text class="m" style="font-family:&quot;Liberation Mono&quot;,&quot;DejaVu Sans Mono&quot;,monospace;font-size:46px;" text-anchor="middle"><tspan x="1710.1" y="2958.9">c</tspan><tspan x="1745.4" y="2958.9">o</tspan><tspan x="1780.6" y="2958.9">m</tspan><tspan x="1815.9" y="2958.9">p</tspan><tspan x="1851.1" y="2958.9">8</tspan><tspan x="1886.4" y="2958.9">1</tspan><tspan x="1921.6" y="2958.9">1</tspan><tspan x="1956.9" y="2958.9">7</tspan><tspan x="1992.1" y="2958.9">8</tspan><tspan x="2027.4" y="2968.9">_</tspan><tspan x="2062.6" y="2958.9">c</tspan><tspan x="2097.9" y="2958.9">1</tspan><tspan x="2133.1" y="2968.9">_</tspan><tspan x="2168.4" y="2958.9">s</tspan><tspan x="2203.6" y="2958.9">e</tspan><tspan x="2238.9" y="2958.9">q</tspan><tspan x="2274.1" y="2958.9">1</tspan></text>
<text x="1221.6" y="3097.7" style="font-family:&quot;Liberation Serif&quot;,&quot;Times New Roman&quot;,serif;font-size:86px;" text-anchor="middle">(<tspan style="font-weight:bold">b</tspan>)</text>
<rect x="449.40" y="674.40" width="1211.20" height="907.80" fill="#ccccff"/>
<rect x="449.40" y="674.40" width="76.00" height="57.04" fill="#008590"/>
<rect x="525.10" y="674.40" width="76.00" height="57.04" fill="#007c83"/>
<rect x="600.80" y="674.40" width="76.00" height="57.04" fill="#006e70"/>
<rect x="676.50" y="674.40" width="76.00" height="57.04" fill="#006a69"/>
<rect x="752.20" y="674.40" width="76.00" height="57.04" fill="#006a69"/>
<rect x="827.90" y="674.40" width="76.00" height="57.04" fill="#006a69"/>
<rect x="903.60" y="674.40" width="76.00" height="57.04" fill="#006a69"/>
<rect x="979.30" y="674.40" width="76.00" height="57.04" fill="#006a69"/>
<rect x="1055.00" y="674.40" width="76.00" height="57.04" fill="#006c6c"/>
<rect x="1130.70" y="674.40" width="76.00" height="57.04" fill="#00808a"/>
<rect x="1206.40" y="674.40" width="76.00" height="57.04" fill="#007276"/>
<rect x="1282.10" y="674.40" width="76.00" height="57.04" fill="#006b6b"/>
<rect x="1357.80" y="674.40" width="76.00" height="57.04" fill="#3a9ab5"/>
<rect x="1433.50" y="674.40" width="76.00" height="57.04" fill="#006c6c"/>
<rect x="1509.20" y="674.40" width="76.00" height="57.04" fill="#00808a"/>
<rect x="1584.90" y="674.40" width="76.00" height="57.04" fill="#1594aa"/>
<rect x="449.40" y="731.14" width="76.00" height="57.04" fill="#0090a0"/>
<rect x="525.10" y="731.14" width="76.00" height="57.04" fill="#008590"/>
<rect x="600.80" y="731.14" width="76.00" height="57.04" fill="#008e9d"/>
<rect x="676.50" y="731.14" width="76.00" height="57.04" fill="#55a3c3"/>
<rect x="752.20" y="731.14" width="76.00" height="57.04" fill="#008893"/>
<rect x="827.90" y="731.14" width="76.00" height="57.04" fill="#008893"/>
<rect x="903.60" y="731.14" width="76.00" height="57.04" fill="#006a6a"/>
<rect x="979.30" y="731.14" width="76.00" height="57.04" fill="#2a98b1"/>
<rect x="1055.00" y="731.14" width="76.00" height="57.04" fill="#0090a0"/>
<rect x="1130.70" y="731.14" width="76.00" height="57.04" fill="#0090a0"/>
<rect x="1206.40" y="731.14" width="76.00" height="57.04" fill="#00808a"/>
<rect x="1282.10" y="731.14" width="76.00" height="57.04" fill="#006b6b"/>
<rect x="1357.80" y="731.14" width="76.00" height="57.04" fill="#1594aa"/>
<rect x="1433.50" y="731.14" width="76.00" height="57.04" fill="#489fbc"/>
<rect x="1509.20" y="731.14" width="76.00" height="57.04" fill="#5aa5c5"/>
<rect x="1584.90" y="731.14" width="76.00" height="57.04" fill="#5aa5c5"/>
<rect x="979.30" y="787.88" width="76.00" height="57.04" fill="#3f9cb7"/>
<rect x="1055.00" y="787.88" width="76.00" height="57.04" fill="#006c6c"/>
<rect x="1130.70" y="787.88" width="76.00" height="57.04" fill="#006c6c"/>
<rect x="1206.40" y="787.88" width="76.00" height="57.04" fill="#5aa5c5"/>
<rect x="1282.10" y="787.88" width="76.00" height="57.04" fill="#008893"/>
<rect x="1357.80" y="787.88" width="76.00" height="57.04" fill="#90b6de"/>
<rect x="1433.50" y="787.88" width="76.00" height="57.04" fill="#5aa5c5"/>
<rect x="1509.20" y="787.88" width="76.00" height="57.04" fill="#90b6de"/>
<rect x="1584.90" y="787.88" width="76.00" height="57.04" fill="#0090a0"/>
<rect x="525.10" y="844.61" width="76.00" height="57.04" fill="#a0bbe6"/>
<rect x="600.80" y="844.61" width="76.00" height="57.04" fill="#a4bce7"/>
<rect x="676.50" y="844.61" width="76.00" height="57.04" fill="#a0bbe6"/>
<rect x="752.20" y="844.61" width="76.00" height="57.04" fill="#7db1d6"/>
<rect x="979.30" y="844.61" width="76.00" height="57.04" fill="#9bbae3"/>
<rect x="1055.00" y="844.61" width="76.00" height="57.04" fill="#5fa7c6"/>
<rect x="1130.70" y="844.61" width="76.00" height="57.04" fill="#95b8e0"/>
<rect x="1206.40" y="844.61" width="76.00" height="57.04" fill="#aabdea"/>
<rect x="1282.10" y="844.61" width="76.00" height="57.04" fill="#55a3c3"/>
<rect x="1357.80" y="844.61" width="76.00" height="57.04" fill="#b0c0ee"/>
<rect x="1433.50" y="844.61" width="76.00" height="57.04" fill="#a0bbe6"/>
<rect x="1509.20" y="844.61" width="76.00" height="57.04" fill="#c0c8f5"/>
<rect x="1584.90" y="844.61" width="76.00" height="57.04" fill="#c9cafd"/>
<rect x="449.40" y="901.35" width="76.00" height="57.04" fill="#b0c0ee"/>
<rect x="525.10" y="901.35" width="76.00" height="57.04" fill="#b8c4f2"/>
<rect x="600.80" y="901.35" width="76.00" height="57.04" fill="#b8c4f2"/>
<rect x="676.50" y="901.35" width="76.00" height="57.04" fill="#a0bbe6"/>
<rect x="979.30" y="901.35" width="76.00" height="57.04" fill="#b0c0ee"/>
<rect x="1055.00" y="901.35" width="76.00" height="57.04" fill="#acbeeb"/>
<rect x="1130.70" y="901.35" width="76.00" height="57.04" fill="#a8bce8"/>
<rect x="1206.40" y="901.35" width="76.00" height="57.04" fill="#b8c4f2"/>
<rect x="1282.10" y="901.35" width="76.00" height="57.04" fill="#95b8e0"/>
<rect x="1357.80" y="901.35" width="76.00" height="57.04" fill="#c1c8f7"/>
<rect x="1433.50" y="901.35" width="76.00" height="57.04" fill="#bac5f3"/>
<rect x="1509.20" y="901.35" width="76.00" height="57.04" fill="#c1c8f7"/>
<rect x="1584.90" y="901.35" width="76.00" height="57.04" fill="#bcc6f4"/>
<rect x="449.40" y="958.09" width="76.00" height="57.04" fill="#8db6dd"/>
<rect x="600.80" y="958.09" width="76.00" height="57.04" fill="#b8c4f2"/>
<rect x="1130.70" y="958.09" width="76.00" height="57.04" fill="#87b4db"/>
<rect x="1357.80" y="958.09" width="76.00" height="57.04" fill="#a8bce8"/>
<rect x="1509.20" y="958.09" width="76.00" height="57.04" fill="#b2c1ef"/>
<rect x="1584.90" y="958.09" width="76.00" height="57.04" fill="#bec7f4"/>
<rect x="449.40" y="1014.83" width="76.00" height="57.04" fill="#a8bce8"/>
<rect x="676.50" y="1014.83" width="76.00" height="57.04" fill="#95b8e0"/>
<rect x="1357.80" y="1014.83" width="76.00" height="57.04" fill="#bac5f3"/>
<rect x="1509.20" y="1014.83" width="76.00" height="57.04" fill="#b2c1ef"/>
<rect x="1584.90" y="1014.83" width="76.00" height="57.04" fill="#a6bce7"/>
<rect x="449.40" y="1071.56" width="76.00" height="57.04" fill="#7db1d6"/>
<rect x="676.50" y="1071.56" width="76.00" height="57.04" fill="#95b8e0"/>
<rect x="1357.80" y="1071.56" width="76.00" height="57.04" fill="#80b2d8"/>
<rect x="1509.20" y="1071.56" width="76.00" height="57.04" fill="#95b8e0"/>
<rect x="1584.90" y="1071.56" width="76.00" height="57.04" fill="#a2bbe6"/>
<rect x="449.40" y="1128.30" width="76.00" height="57.04" fill="#008893"/>
<rect x="1357.80" y="1128.30" width="76.00" height="57.04" fill="#77afd3"/>
<rect x="1433.50" y="1128.30" width="76.00" height="57.04" fill="#00828d"/>
<rect x="1509.20" y="1128.30" width="76.00" height="57.04" fill="#3f9cb7"/>
<rect x="1584.90" y="1128.30" width="76.00" height="57.04" fill="#6aaac8"/>
<rect x="449.40" y="1185.04" width="76.00" height="57.04" fill="#008893"/>
<rect x="1357.80" y="1185.04" width="76.00" height="57.04" fill="#77afd3"/>
<rect x="1509.20" y="1185.04" width="76.00" height="57.04" fill="#87b4db"/>
<rect x="1584.90" y="1185.04" width="76.00" height="57.04" fill="#87b4db"/>
<rect x="1357.80" y="1241.78" width="76.00" height="57.04" fill="#b8c4f2"/>
<rect x="1509.20" y="1241.78" width="76.00" height="57.04" fill="#bcc6f4"/>
<rect x="1584.90" y="1241.78" width="76.00" height="57.04" fill="#c4c8fa"/>
<rect x="1357.80" y="1298.51" width="76.00" height="57.04" fill="#b8c4f2"/>
<rect x="1509.20" y="1298.51" width="76.00" height="57.04" fill="#bcc6f4"/>
<rect x="1584.90" y="1298.51" width="76.00" height="57.04" fill="#bcc6f4"/>
<rect x="1357.80" y="1355.25" width="76.00" height="57.04" fill="#95b8e0"/>
<rect x="1509.20" y="1355.25" width="76.00" height="57.04" fill="#a6bce7"/>
<rect x="1584.90" y="1355.25" width="76.00" height="57.04" fill="#a2bbe6"/>
<rect x="1357.80" y="1411.99" width="76.00" height="57.04" fill="#bcc6f4"/>
<rect x="1509.20" y="1411.99" width="76.00" height="57.04" fill="#acbeeb"/>
<rect x="1584.90" y="1411.99" width="76.00" height="57.04" fill="#b8c4f2"/>
<rect x="1357.80" y="1468.72" width="76.00" height="57.04" fill="#b0c0ee"/>
<rect x="1509.20" y="1468.72" width="76.00" height="57.04" fill="#b0c0ee"/>
<rect x="1584.90" y="1468.72" width="76.00" height="57.04" fill="#a0bbe6"/>
<rect x="1357.80" y="1525.46" width="76.00" height="57.04" fill="#acbeeb"/>
<rect x="1509.20" y="1525.46" width="76.00" height="57.04" fill="#b2c1ef"/>
<rect x="1584.90" y="1525.46" width="76.00" height="57.04" fill="#95b8e0"/>
<rect x="417.60" y="2557.80" width="1238.40" height="405.40" fill="#ccccff"/>
<rect x="1114.20" y="2557.80" width="77.70" height="58.21" fill="#b6c3f1"/>
<rect x="1191.60" y="2557.80" width="77.70" height="58.21" fill="#80b2d8"/>
<rect x="1269.00" y="2557.80" width="77.70" height="58.21" fill="#8db6dd"/>
<rect x="1346.40" y="2557.80" width="77.70" height="58.21" fill="#7db1d6"/>
<rect x="1114.20" y="2615.71" width="77.70" height="58.21" fill="#bec7f4"/>
<rect x="1191.60" y="2615.71" width="77.70" height="58.21" fill="#a4bce7"/>
<rect x="1269.00" y="2615.71" width="77.70" height="58.21" fill="#0090a0"/>
<rect x="1346.40" y="2615.71" width="77.70" height="58.21" fill="#006b6b"/>
<rect x="1423.80" y="2615.71" width="77.70" height="58.21" fill="#a4bce7"/>
<rect x="1501.20" y="2615.71" width="77.70" height="58.21" fill="#a4bce7"/>
<rect x="1578.60" y="2615.71" width="77.70" height="58.21" fill="#006b6b"/>
<rect x="882.00" y="2673.63" width="77.70" height="58.21" fill="#9bbae3"/>
<rect x="959.40" y="2673.63" width="77.70" height="58.21" fill="#87b4db"/>
<rect x="1036.80" y="2673.63" width="77.70" height="58.21" fill="#b0c0ee"/>
<rect x="882.00" y="2731.54" width="77.70" height="58.21" fill="#b6c3f1"/>
<rect x="959.40" y="2731.54" width="77.70" height="58.21" fill="#a0bbe6"/>
<rect x="1036.80" y="2731.54" width="77.70" height="58.21" fill="#a8bce8"/>
<rect x="882.00" y="2789.46" width="77.70" height="58.21" fill="#84b3d9"/>
<rect x="959.40" y="2789.46" width="77.70" height="58.21" fill="#7ab0d5"/>
<rect x="1036.80" y="2789.46" width="77.70" height="58.21" fill="#6dabca"/>
<rect x="882.00" y="2847.37" width="77.70" height="58.21" fill="#55a3c3"/>
<rect x="959.40" y="2847.37" width="77.70" height="58.21" fill="#77afd3"/>
<rect x="1114.20" y="2847.37" width="77.70" height="58.21" fill="#7ab0d5"/>
<rect x="1578.60" y="2847.37" width="77.70" height="58.21" fill="#008e9d"/>
<rect x="882.00" y="2905.29" width="77.70" height="58.21" fill="#c0c8f5"/>
<rect x="959.40" y="2905.29" width="77.70" height="58.21" fill="#b2c1ef"/>
<rect x="1036.80" y="2905.29" width="77.70" height="58.21" fill="#b4c2f0"/>
<rect x="1114.20" y="2905.29" width="77.70" height="58.21" fill="#b2c1ef"/>
<rect x="1578.60" y="2905.29" width="77.70" height="58.21" fill="#7db1d6"/>
</svg>
</body></html>
